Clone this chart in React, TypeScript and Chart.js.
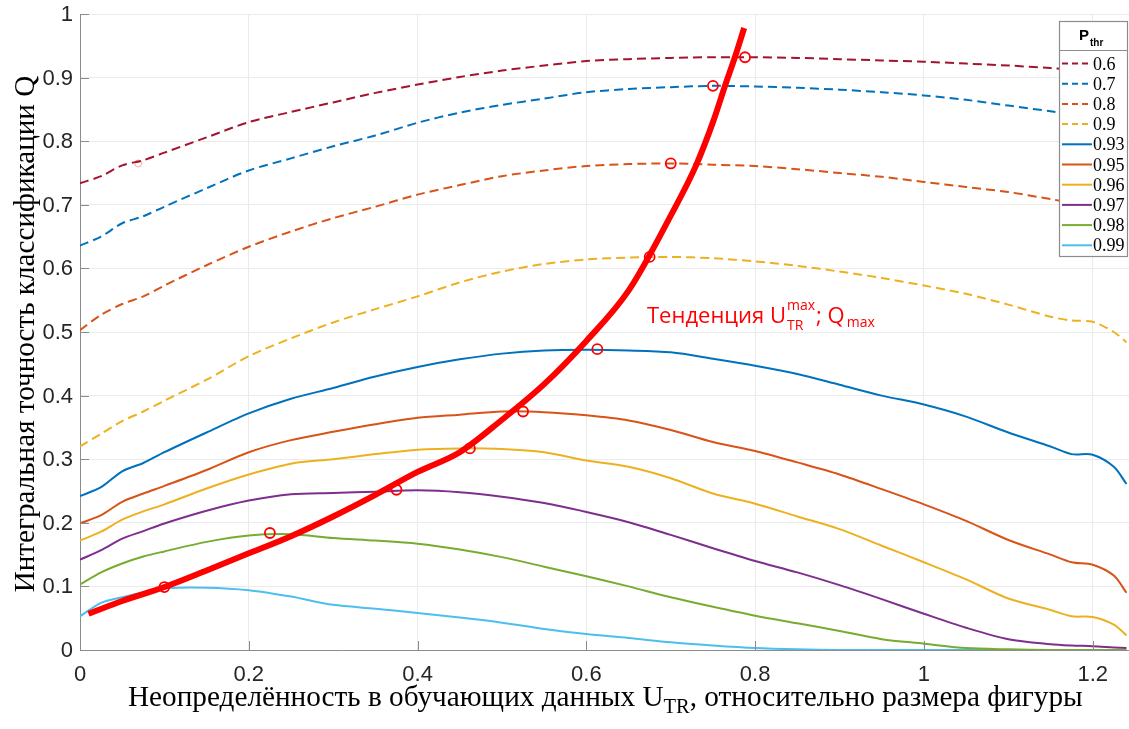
import React, { useEffect, useRef } from "react";
import { Chart, registerables } from "chart.js";

Chart.register(...registerables);

// ---------------- data ----------------
const X_VALUES = [0, 0.025, 0.05, 0.075, 0.1, 0.15, 0.2, 0.25, 0.3, 0.35, 0.4, 0.45, 0.5, 0.55, 0.6, 0.65, 0.7, 0.75, 0.8, 0.85, 0.9, 0.95, 1.0, 1.05, 1.1, 1.15, 1.175, 1.2, 1.225, 1.24];

const Q_060 = [0.734, 0.745, 0.762, 0.77, 0.782, 0.806, 0.83, 0.846, 0.861, 0.876, 0.889, 0.901, 0.911, 0.919, 0.926, 0.929, 0.931, 0.932, 0.932, 0.931, 0.929, 0.927, 0.925, 0.922, 0.919, 0.915, 0.913, 0.911, 0.908, 0.906];
const Q_070 = [0.636, 0.65, 0.671, 0.682, 0.697, 0.726, 0.754, 0.773, 0.792, 0.809, 0.829, 0.845, 0.857, 0.867, 0.877, 0.882, 0.885, 0.887, 0.886, 0.884, 0.881, 0.877, 0.872, 0.865, 0.856, 0.847, 0.842, 0.837, 0.832, 0.829];
const Q_080 = [0.503, 0.527, 0.544, 0.556, 0.573, 0.605, 0.634, 0.658, 0.679, 0.697, 0.716, 0.731, 0.745, 0.754, 0.761, 0.764, 0.765, 0.763, 0.761, 0.756, 0.75, 0.744, 0.736, 0.728, 0.72, 0.709, 0.703, 0.697, 0.688, 0.681];
const Q_090 = [0.32, 0.34, 0.36, 0.375, 0.392, 0.425, 0.462, 0.49, 0.515, 0.536, 0.556, 0.578, 0.595, 0.607, 0.614, 0.617, 0.618, 0.616, 0.611, 0.604, 0.595, 0.585, 0.573, 0.56, 0.543, 0.524, 0.518, 0.516, 0.5, 0.484];
const Q_093 = [0.242, 0.256, 0.281, 0.294, 0.311, 0.342, 0.372, 0.395, 0.412, 0.43, 0.445, 0.457, 0.466, 0.471, 0.472, 0.471, 0.468, 0.458, 0.447, 0.434, 0.417, 0.4, 0.386, 0.367, 0.342, 0.32, 0.308, 0.307, 0.288, 0.261];
const Q_095 = [0.199, 0.212, 0.233, 0.246, 0.258, 0.283, 0.311, 0.33, 0.343, 0.355, 0.365, 0.37, 0.375, 0.374, 0.369, 0.361, 0.346, 0.327, 0.313, 0.295, 0.276, 0.253, 0.229, 0.203, 0.173, 0.15, 0.138, 0.134, 0.117, 0.09];
const Q_096 = [0.172, 0.186, 0.205, 0.218, 0.229, 0.254, 0.276, 0.293, 0.3, 0.308, 0.315, 0.317, 0.316, 0.311, 0.298, 0.288, 0.27, 0.246, 0.23, 0.21, 0.19, 0.164, 0.138, 0.111, 0.081, 0.063, 0.053, 0.052, 0.04, 0.023];
const Q_097 = [0.142, 0.157, 0.175, 0.187, 0.199, 0.219, 0.235, 0.245, 0.247, 0.249, 0.251, 0.248, 0.241, 0.231, 0.217, 0.201, 0.181, 0.16, 0.14, 0.122, 0.102, 0.08, 0.057, 0.035, 0.017, 0.009, 0.007, 0.006, 0.004, 0.003];
const Q_098 = [0.103, 0.122, 0.136, 0.147, 0.155, 0.17, 0.18, 0.182, 0.176, 0.172, 0.167, 0.158, 0.146, 0.131, 0.116, 0.1, 0.083, 0.068, 0.054, 0.042, 0.03, 0.017, 0.01, 0.003, 0.001, 0, 0, 0, 0, 0];
const Q_099 = [0.053, 0.074, 0.083, 0.091, 0.097, 0.098, 0.094, 0.084, 0.071, 0.065, 0.058, 0.051, 0.043, 0.033, 0.025, 0.019, 0.012, 0.007, 0.003, 0.001, 0, 0, 0, 0, 0, 0, 0, 0, 0, 0];

const TREND_X = [0.01, 0.05, 0.1, 0.15, 0.2, 0.25, 0.3, 0.35, 0.4, 0.45, 0.5, 0.55, 0.6, 0.65, 0.7, 0.73, 0.75, 0.765, 0.776, 0.787];
const TREND_Y = [0.057, 0.077, 0.099, 0.125, 0.152, 0.179, 0.21, 0.244, 0.28, 0.311, 0.362, 0.418, 0.486, 0.565, 0.683, 0.762, 0.83, 0.89, 0.932, 0.978];

const MARKER_X = [0.1, 0.225, 0.375, 0.462, 0.525, 0.613, 0.675, 0.7, 0.75, 0.788];
const MARKER_Y = [0.099, 0.184, 0.252, 0.317, 0.375, 0.473, 0.618, 0.765, 0.887, 0.932];
const FAINT_MARKER_X = [0.069];
const FAINT_MARKER_Y = [0.765];

const X_TICKS = [0, 0.2, 0.4, 0.6, 0.8, 1, 1.2];
const Y_TICKS = [0, 0.1, 0.2, 0.3, 0.4, 0.5, 0.6, 0.7, 0.8, 0.9, 1];
const X_TICK_LABELS = ["0", "0.2", "0.4", "0.6", "0.8", "1", "1.2"];
const Y_TICK_LABELS = ["0", "0.1", "0.2", "0.3", "0.4", "0.5", "0.6", "0.7", "0.8", "0.9", "1"];
const X_MIN = 0;
const X_MAX = 1.243;
const Y_MIN = 0;
const Y_MAX = 1;

const SERIES_LABELS = ["0.6", "0.7", "0.8", "0.9", "0.93", "0.95", "0.96", "0.97", "0.98", "0.99"];
const SERIES_VALUES = [Q_060, Q_070, Q_080, Q_090, Q_093, Q_095, Q_096, Q_097, Q_098, Q_099];
const SERIES_COLORS = ["#A2142F", "#0072BD", "#D95319", "#EDB120", "#0072BD", "#D95319", "#EDB120", "#7E2F8E", "#77AC30", "#4DBEEE"];
const SERIES_DASHED = [true, true, true, true, false, false, false, false, false, false];

const LEGEND_TITLE = "P";
const LEGEND_TITLE_SUB = "thr";
const X_TITLE_PARTS = ["Неопределённость в обучающих данных U", "TR", ", относительно размера фигуры"];
const Y_TITLE = "Интегральная точность классификации Q";
const ANNOT_MAIN = "Тенденция U";
const ANNOT_SUP = "max";
const ANNOT_SUB = "TR";
const ANNOT_MID = "; Q";
const ANNOT_END_SUB = "max";

// ---------------- styles ----------------
const SERIF = '"Liberation Serif", "Times New Roman", serif';
const SANS = '"Liberation Sans", Arial, sans-serif';
const CALIBRI_LIKE = '"Open Sans", "Noto Sans", sans-serif';
const AXIS_COLOR = "#8c8c8c";
const GRID_COLOR = "#ebebeb";
const TEXT_COLOR = "#262626";
const RED = "#ff0000";

const toPoints = (xs: number[], ys: number[]) => xs.map((x, i) => ({ x, y: ys[i] }));

function fitSize(ctx: CanvasRenderingContext2D, text: string, family: string, weight: string, target: number, base: number) {
  ctx.font = `${weight} ${base}px ${family}`;
  const w = ctx.measureText(text).width;
  return w > 0 ? (base * target) / w : base;
}

const decorPlugin = {
  id: "decor",
  afterDraw(chart: any) {
    const { ctx, chartArea: ca, scales } = chart;
    const xs = scales.x;
    const ys = scales.y;
    ctx.save();

    // inward ticks (MATLAB style)
    ctx.strokeStyle = AXIS_COLOR;
    ctx.lineWidth = 1;
    X_TICKS.forEach((v) => {
      const px = Math.round(xs.getPixelForValue(v)) + 0.5;
      ctx.beginPath();
      ctx.moveTo(px, ca.bottom);
      ctx.lineTo(px, ca.bottom - 9);
      ctx.stroke();
    });
    Y_TICKS.forEach((v) => {
      const py = Math.round(ys.getPixelForValue(v)) + 0.5;
      ctx.beginPath();
      ctx.moveTo(ca.left, py);
      ctx.lineTo(ca.left + 9, py);
      ctx.stroke();
    });

    // tick labels
    ctx.fillStyle = TEXT_COLOR;
    ctx.font = `normal 22px ${SANS}`;
    ctx.textBaseline = "middle";
    ctx.textAlign = "center";
    X_TICKS.forEach((v, i) => {
      ctx.fillText(X_TICK_LABELS[i], xs.getPixelForValue(v), ca.bottom + 25);
    });
    ctx.textAlign = "right";
    Y_TICKS.forEach((v, i) => {
      ctx.fillText(Y_TICK_LABELS[i], ca.left - 7, ys.getPixelForValue(v) + 1);
    });

    // Y axis title (rotated)
    ctx.fillStyle = "#000";
    const ySize = Math.min(30, fitSize(ctx, Y_TITLE, SERIF, "normal", 517, 26));
    ctx.save();
    ctx.translate(34, 334);
    ctx.rotate(-Math.PI / 2);
    ctx.font = `normal ${ySize}px ${SERIF}`;
    ctx.textAlign = "center";
    ctx.textBaseline = "alphabetic";
    ctx.fillText(Y_TITLE, 0, 0);
    ctx.restore();

    // X axis title with subscript
    ctx.textAlign = "left";
    ctx.textBaseline = "alphabetic";
    const base = 26;
    ctx.font = `normal ${base}px ${SERIF}`;
    const w1 = ctx.measureText(X_TITLE_PARTS[0]).width;
    const w3 = ctx.measureText(X_TITLE_PARTS[2]).width;
    ctx.font = `normal ${base * 0.7}px ${SERIF}`;
    const w2 = ctx.measureText(X_TITLE_PARTS[1]).width;
    const scale = 955 / (w1 + w2 + w3);
    const xf = base * scale;
    let tx = 128;
    const tb = 706;
    ctx.font = `normal ${xf}px ${SERIF}`;
    ctx.fillText(X_TITLE_PARTS[0], tx, tb);
    tx += ctx.measureText(X_TITLE_PARTS[0]).width;
    ctx.font = `normal ${xf * 0.7}px ${SERIF}`;
    ctx.fillText(X_TITLE_PARTS[1], tx, tb + 7);
    tx += ctx.measureText(X_TITLE_PARTS[1]).width;
    ctx.font = `normal ${xf}px ${SERIF}`;
    ctx.fillText(X_TITLE_PARTS[2], tx, tb);

    // Annotation
    ctx.fillStyle = RED;
    const aSize = 22;
    const sSize = 14;
    let ax = 647;
    const ab = 323;
    ctx.font = `normal ${aSize}px ${CALIBRI_LIKE}`;
    ctx.fillText(ANNOT_MAIN, ax, ab);
    ax += ctx.measureText(ANNOT_MAIN).width + 1;
    ctx.font = `normal ${sSize}px ${CALIBRI_LIKE}`;
    ctx.fillText(ANNOT_SUP, ax, ab - 13);
    ctx.fillText(ANNOT_SUB, ax, ab + 7);
    ax += Math.max(ctx.measureText(ANNOT_SUP).width, ctx.measureText(ANNOT_SUB).width) + 1;
    ctx.font = `normal ${aSize}px ${CALIBRI_LIKE}`;
    ctx.fillText(ANNOT_MID, ax, ab);
    ax += ctx.measureText(ANNOT_MID).width + 2;
    ctx.font = `normal ${sSize}px ${CALIBRI_LIKE}`;
    ctx.fillText(ANNOT_END_SUB, ax, ab + 4);

    // Legend box
    const lx0 = 1059.5, ly0 = 21.5, lx1 = 1127.5, ly1 = 256.5;
    ctx.fillStyle = "#fff";
    ctx.fillRect(lx0, ly0, lx1 - lx0, ly1 - ly0);
    ctx.strokeStyle = "#8c8c8c";
    ctx.lineWidth = 1.2;
    ctx.strokeRect(lx0, ly0, lx1 - lx0, ly1 - ly0);
    ctx.beginPath();
    ctx.moveTo(lx0, 50.5);
    ctx.lineTo(lx1, 50.5);
    ctx.lineWidth = 1;
    ctx.stroke();
    ctx.fillStyle = "#000";
    ctx.font = `bold 15px ${SANS}`;
    ctx.fillText(LEGEND_TITLE, 1079, 39.5);
    const pw = ctx.measureText(LEGEND_TITLE).width;
    ctx.font = `bold 10px ${SANS}`;
    ctx.fillText(LEGEND_TITLE_SUB, 1079 + pw + 1, 46);

    chart.data.datasets.forEach((ds: any) => {
      if (ds.legendIndex === undefined) return;
      const cy = 63.5 + ds.legendIndex * 20.2;
      ctx.strokeStyle = ds.borderColor;
      ctx.lineWidth = 2;
      ctx.setLineDash(ds.borderDash && ds.borderDash.length ? [6, 4] : []);
      ctx.beginPath();
      ctx.moveTo(1062, cy);
      ctx.lineTo(1092, cy);
      ctx.stroke();
      ctx.setLineDash([]);
      ctx.fillStyle = "#000";
      ctx.font = `normal 18px ${SERIF}`;
      ctx.fillText(ds.label, 1093, cy + 6);
    });

    ctx.restore();
  },
};

export default function App() {
  const ref = useRef<HTMLCanvasElement>(null);

  useEffect(() => {
    if (!ref.current) return;
    const seriesDatasets = SERIES_LABELS.map((label, i) => ({
      label,
      legendIndex: i,
      data: toPoints(X_VALUES, SERIES_VALUES[i]),
      borderColor: SERIES_COLORS[i],
      backgroundColor: SERIES_COLORS[i],
      borderWidth: 2,
      borderDash: SERIES_DASHED[i] ? [9, 5] : [],
      pointRadius: 0,
      showLine: true,
      tension: 0.3,
      order: 10 + i,
    }));

    const chart = new Chart(ref.current, {
      type: "scatter",
      data: {
        datasets: [
          ...seriesDatasets,
          {
            label: "trend",
            data: toPoints(TREND_X, TREND_Y),
            borderColor: RED,
            backgroundColor: RED,
            borderWidth: 6,
            pointRadius: 0,
            showLine: true,
            cubicInterpolationMode: "monotone",
            borderCapStyle: "butt",
            order: 1,
          } as any,
          {
            label: "max",
            data: toPoints(MARKER_X, MARKER_Y),
            borderColor: RED,
            backgroundColor: "rgba(0,0,0,0)",
            borderWidth: 1.8,
            pointRadius: 5,
            pointStyle: "circle",
            showLine: false,
            order: 0,
          },
          {
            label: "faint",
            data: toPoints(FAINT_MARKER_X, FAINT_MARKER_Y),
            borderColor: "rgba(255,0,0,0.35)",
            backgroundColor: "rgba(0,0,0,0)",
            borderWidth: 1,
            pointRadius: 3.5,
            showLine: false,
            order: 0,
          },
        ],
      },
      options: {
        animation: false,
        responsive: true,
        maintainAspectRatio: false,
        layout: { autoPadding: false, padding: { top: 14, right: 0, left: 0, bottom: 0 } },
        plugins: {
          legend: { display: false },
          tooltip: { enabled: false },
        },
        scales: {
          x: {
            type: "linear",
            min: X_MIN,
            max: X_MAX,
            afterBuildTicks: (s: any) => {
              s.ticks = X_TICKS.map((v) => ({ value: v }));
            },
            afterFit: (s: any) => {
              s.height = 79;
            },
            ticks: { display: false },
            grid: { color: GRID_COLOR, drawTicks: false, lineWidth: 1 },
            border: { display: true, color: AXIS_COLOR, width: 1 },
          },
          y: {
            type: "linear",
            min: Y_MIN,
            max: Y_MAX,
            afterBuildTicks: (s: any) => {
              s.ticks = Y_TICKS.map((v) => ({ value: v }));
            },
            afterFit: (s: any) => {
              s.width = 80;
            },
            ticks: { display: false },
            grid: { color: GRID_COLOR, drawTicks: false, lineWidth: 1 },
            border: { display: true, color: AXIS_COLOR, width: 1 },
          },
        },
      },
      plugins: [decorPlugin],
    } as any);

    return () => chart.destroy();
  }, []);

  return (
    <div style={{ position: "absolute", left: 0, top: 0, width: 1129, height: 729, background: "#fff" }}>
      <canvas ref={ref} />
    </div>
  );
}
